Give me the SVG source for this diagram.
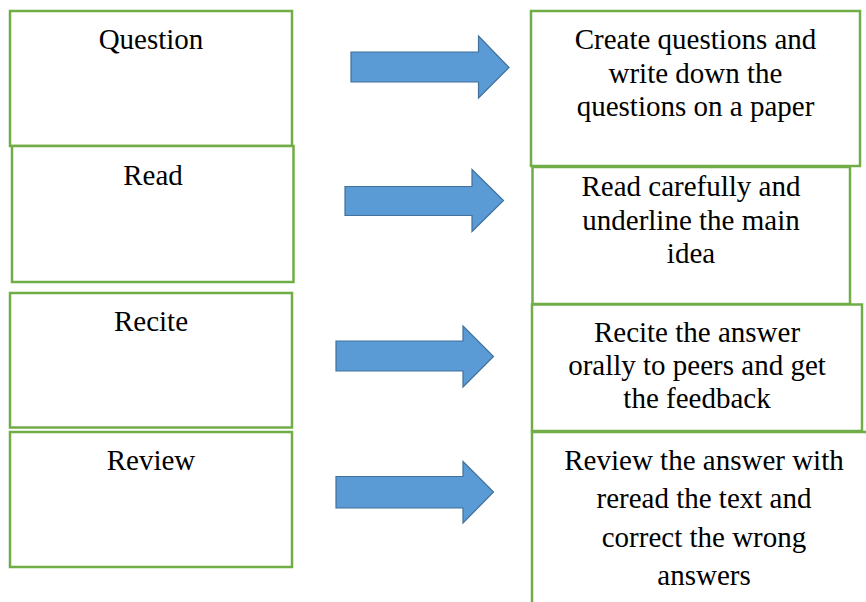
<svg xmlns="http://www.w3.org/2000/svg" width="866" height="602" viewBox="0 0 866 602" font-family="Liberation Serif, DejaVu Serif, serif">
<style>
.box{fill:#fff;stroke:#70AD47;stroke-width:2.5}
.arr{fill:#5B9BD5;stroke:#41719C;stroke-width:1.2}
.t{font-size:29px;fill:#000;text-anchor:middle}
</style>
<rect width="866" height="602" fill="#fff"/>
<g id="n-question"><rect class="box" x="10" y="11" width="282" height="135"/><text class="t" x="151" y="49">Question</text></g>
<g id="n-read"><rect class="box" x="12" y="146" width="281.5" height="136"/><text class="t" x="153" y="185">Read</text></g>
<g id="n-recite"><rect class="box" x="10" y="293" width="282" height="134.5"/><text class="t" x="151" y="331">Recite</text></g>
<g id="n-review"><rect class="box" x="10" y="432" width="282" height="135"/><text class="t" x="151" y="470">Review</text></g>
<g id="d-question"><rect class="box" x="531" y="11" width="329" height="155"/><text class="t" x="695.5" y="49">Create questions and</text><text class="t" x="695.5" y="83">write down the</text><text class="t" x="695.5" y="116">questions on a paper</text></g>
<g id="d-read"><rect class="box" x="532.5" y="167" width="317.5" height="137"/><text class="t" x="691" y="196">Read carefully and</text><text class="t" x="691" y="230">underline the main</text><text class="t" x="691" y="263">idea</text></g>
<g id="d-recite"><rect class="box" x="532" y="304.5" width="330" height="126.5"/><text class="t" x="697" y="342">Recite the answer</text><text class="t" x="697" y="375">orally to peers and get</text><text class="t" x="697" y="408">the feedback</text></g>
<g id="d-review"><rect class="box" x="532" y="432" width="344" height="180"/><text class="t" x="704" y="470">Review the answer with</text><text class="t" x="704" y="508">reread the text and</text><text class="t" x="704" y="547">correct the wrong</text><text class="t" x="704" y="585">answers</text></g>
<g id="connectors">
<polygon class="arr" points="351,52 478.5,52 478.5,36 509,67.5 478.5,98 478.5,82 351,82"/>
<polygon class="arr" points="345,186.5 472,186.5 472,169.5 503.5,200.5 472,231.5 472,215.5 345,215.5"/>
<polygon class="arr" points="336,341 463,341 463,326 493.5,356.5 463,387 463,371 336,371"/>
<polygon class="arr" points="336,476.5 463,476.5 463,461.5 493.5,492 463,523 463,508 336,508"/>
</g>
</svg>
